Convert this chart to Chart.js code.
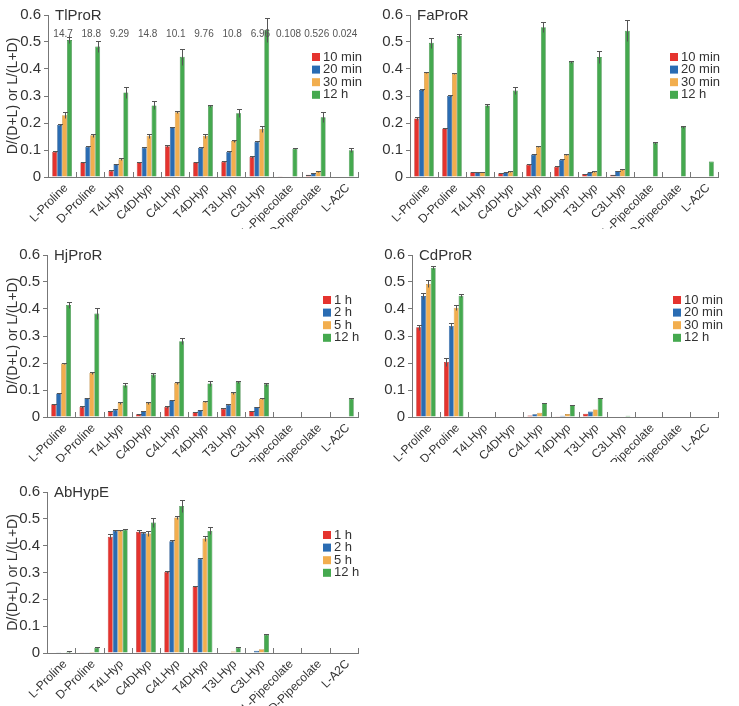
<!DOCTYPE html>
<html>
<head>
<meta charset="utf-8">
<script src="https://cdn.jsdelivr.net/npm/chart.js@4.4.0/dist/chart.umd.min.js"></script>
<style>
  body { margin: 0; background: #fff; width: 739px; height: 706px; position: relative; overflow: hidden; }
  canvas { position: absolute; }
</style>
</head>
<body>
<canvas id="tl" width="370" height="229" style="left:0;top:0"></canvas>
<canvas id="fa" width="369" height="229" style="left:370px;top:0"></canvas>
<canvas id="hj" width="370" height="230" style="left:0;top:232px"></canvas>
<canvas id="cd" width="369" height="230" style="left:370px;top:232px"></canvas>
<canvas id="ab" width="370" height="238" style="left:0;top:468px"></canvas>
<script>
// substrates on the x axis
const categories = ['L-Proline', 'D-Proline', 'T4LHyp', 'C4DHyp', 'C4LHyp', 'T4DHyp', 'T3LHyp', 'C3LHyp', 'L-Pipecolate', 'D-Pipecolate', 'L-A2C'];
const minuteLabels = ['10 min', '20 min', '30 min', '12 h'];
const hourLabels = ['1 h', '2 h', '5 h', '12 h'];
const yTickValues = [0, 0.1, 0.2, 0.3, 0.4, 0.5, 0.6];

// TlProR
const tl10 = [0.093, 0.055, 0.023, 0.055, 0.114, 0.055, 0.057, 0.074, 0.001, 0.008, 0];
const tl20 = [0.193, 0.112, 0.048, 0.109, 0.185, 0.108, 0.093, 0.131, 0.002, 0.013, 0];
const tl30 = [0.229, 0.155, 0.066, 0.153, 0.240, 0.153, 0.133, 0.178, 0.002, 0.021, 0];
const tl12 = [0.507, 0.483, 0.313, 0.265, 0.445, 0.263, 0.236, 0.545, 0.105, 0.221, 0.099];
const tlErr10 = [0.002, 0.002, 0.002, 0.002, 0.003, 0.002, 0.002, 0.003, 0, 0.001, 0];
const tlErr20 = [0.003, 0.002, 0.002, 0.002, 0.002, 0.002, 0.002, 0.002, 0, 0.001, 0];
const tlErr30 = [0.012, 0.005, 0.003, 0.008, 0.004, 0.007, 0.003, 0.01, 0, 0.002, 0];
const tlErr12 = [0.01, 0.02, 0.02, 0.015, 0.03, 0.004, 0.015, 0.045, 0.003, 0.018, 0.008];
const tlRatios = ['14.7', '18.8', '9.29', '14.8', '10.1', '9.76', '10.8', '6.96', '0.108', '0.526', '0.024'];

// FaProR
const fa10 = [0.217, 0.180, 0.018, 0.014, 0.046, 0.038, 0.011, 0.008, 0, 0, 0];
const fa20 = [0.322, 0.300, 0.017, 0.017, 0.083, 0.064, 0.017, 0.022, 0, 0, 0];
const fa30 = [0.387, 0.383, 0.018, 0.020, 0.112, 0.082, 0.020, 0.028, 0, 0, 0];
const fa12 = [0.497, 0.522, 0.265, 0.320, 0.555, 0.426, 0.444, 0.542, 0.126, 0.185, 0.057];
const faErr10 = [0.005, 0.002, 0.001, 0.001, 0.002, 0.002, 0.001, 0.001, 0, 0, 0];
const faErr20 = [0.003, 0.002, 0.001, 0.001, 0.002, 0.002, 0.001, 0.001, 0, 0, 0];
const faErr30 = [0.003, 0.003, 0.001, 0.001, 0.002, 0.002, 0.001, 0.001, 0, 0, 0];
const faErr12 = [0.018, 0.006, 0.005, 0.012, 0.018, 0.003, 0.022, 0.04, 0.004, 0.003, 0];

// HjProR
const hj1 = [0.047, 0.037, 0.021, 0.010, 0.037, 0.018, 0.031, 0.022, 0, 0, 0];
const hj2 = [0.087, 0.070, 0.027, 0.022, 0.062, 0.025, 0.046, 0.037, 0, 0, 0];
const hj5 = [0.198, 0.163, 0.052, 0.052, 0.126, 0.056, 0.089, 0.068, 0, 0, 0];
const hj12 = [0.415, 0.383, 0.118, 0.157, 0.281, 0.124, 0.130, 0.121, 0, 0, 0.068];
const hjErr1 = [0.002, 0.002, 0.001, 0.001, 0.002, 0.001, 0.001, 0.001, 0, 0, 0];
const hjErr2 = [0.002, 0.002, 0.001, 0.001, 0.002, 0.001, 0.001, 0.001, 0, 0, 0];
const hjErr5 = [0.002, 0.002, 0.002, 0.002, 0.002, 0.002, 0.002, 0.002, 0, 0, 0];
const hjErr12 = [0.012, 0.02, 0.008, 0.007, 0.01, 0.008, 0.003, 0.006, 0, 0, 0.003];

// CdProR
const cd10 = [0.332, 0.204, 0, 0, 0.006, 0.003, 0.012, 0.002, 0, 0, 0];
const cd20 = [0.448, 0.337, 0, 0, 0.010, 0.005, 0.020, 0.002, 0, 0, 0];
const cd30 = [0.493, 0.405, 0, 0, 0.016, 0.011, 0.028, 0.002, 0, 0, 0];
const cd12 = [0.553, 0.449, 0, 0, 0.052, 0.044, 0.070, 0.005, 0, 0, 0];
const cdErr10 = [0.01, 0.015, 0, 0, 0, 0, 0, 0, 0, 0, 0];
const cdErr20 = [0.012, 0.01, 0, 0, 0, 0, 0, 0, 0, 0, 0];
const cdErr30 = [0.013, 0.008, 0, 0, 0, 0, 0, 0, 0, 0, 0];
const cdErr12 = [0.005, 0.005, 0, 0, 0.001, 0.001, 0.001, 0, 0, 0, 0];

// AbHypE
const ab1 = [0, 0.001, 0.433, 0.452, 0.302, 0.248, 0, 0, 0, 0, 0];
const ab2 = [0.001, 0.003, 0.456, 0.446, 0.416, 0.352, 0.002, 0.008, 0, 0, 0];
const ab5 = [0.002, 0.004, 0.456, 0.445, 0.505, 0.427, 0.006, 0.014, 0, 0, 0];
const ab12 = [0.005, 0.020, 0.460, 0.486, 0.548, 0.455, 0.020, 0.068, 0, 0, 0];
const abErr1 = [0, 0, 0.01, 0.006, 0.003, 0.003, 0, 0, 0, 0, 0];
const abErr2 = [0, 0, 0.004, 0.004, 0.004, 0.003, 0, 0, 0, 0, 0];
const abErr5 = [0, 0, 0.003, 0.008, 0.005, 0.008, 0, 0, 0, 0, 0];
const abErr12 = [0.002, 0.002, 0.003, 0.017, 0.022, 0.013, 0.002, 0.002, 0, 0, 0];

const fills = ['#e5332e', '#2a6cb3', '#f2ae4e', '#45a94f'];
const edges = ['#a8231f', '#1b4c82', '#b9812f', '#2e7a36'];
const FONT = '"Liberation Sans", Arial, Helvetica, sans-serif';

// error bars, small upward category ticks, panel name, legend and ratio row
const panelPlugin = {
    id: 'panel',
    afterDatasetsDraw(chart) {
        const ctx = chart.ctx;
        const yScale = chart.scales.y;
        ctx.save();
        ctx.strokeStyle = '#555';
        ctx.lineWidth = 1;
        chart.data.datasets.forEach((ds, di) => {
            const meta = chart.getDatasetMeta(di);
            meta.data.forEach((bar, i) => {
                const e = ds.errors[i];
                if (!e) return;
                const v = ds.data[i];
                const yTop = Math.round(yScale.getPixelForValue(v + e)) + 0.5;
                const yBot = Math.round(yScale.getPixelForValue(Math.max(v - e, 0))) + 0.5;
                const xc = Math.round(bar.x) + 0.5;
                ctx.beginPath();
                ctx.moveTo(xc, yTop); ctx.lineTo(xc, yBot);
                ctx.moveTo(xc - 2.5, yTop); ctx.lineTo(xc + 2.5, yTop);
                ctx.stroke();
            });
        });
        ctx.restore();
    },
    afterDraw(chart, args, opts) {
        const ctx = chart.ctx;
        const area = chart.chartArea;
        const xScale = chart.scales.x;
        const n = chart.data.labels.length;
        ctx.save();

        // category separators pointing up from the axis
        ctx.strokeStyle = '#777';
        ctx.lineWidth = 1;
        ctx.beginPath();
        for (let i = 0; i <= n; i++) {
            const px = Math.round(xScale.left + i * xScale.width / n) + 0.5;
            ctx.moveTo(px, area.bottom);
            ctx.lineTo(px, area.bottom - 5);
        }
        ctx.stroke();

        // panel name
        ctx.fillStyle = '#333';
        ctx.font = '15px ' + FONT;
        ctx.textAlign = 'left';
        ctx.textBaseline = 'middle';
        ctx.fillText(opts.name, area.left + 7, area.top + 1);

        // ratio labels above the groups
        if (opts.ratios) {
            ctx.font = '10px ' + FONT;
            ctx.fillStyle = '#555';
            ctx.textAlign = 'center';
            opts.ratios.forEach((t, i) => {
                ctx.fillText(t, xScale.getPixelForValue(i) + 1, area.top + 19);
            });
        }

        // legend
        const lg = opts.legend;
        ctx.font = '13px ' + FONT;
        ctx.textAlign = 'left';
        chart.data.datasets.forEach((ds, i) => {
            const cy = lg.y + i * 12.6;
            ctx.fillStyle = ds.backgroundColor;
            ctx.fillRect(lg.x, cy - 4, 8, 8);
            ctx.fillStyle = '#333';
            ctx.fillText(ds.label, lg.x + 11, cy);
        });
        ctx.restore();
    }
};

function makePanel(id, name, seriesLabels, series, errors, box) {
    const datasets = series.map((data, i) => ({
        label: seriesLabels[i],
        data: data,
        errors: errors[i],
        backgroundColor: fills[i],
        borderColor: edges[i],
        borderWidth: 0.6,
        categoryPercentage: 0.7,
        barPercentage: 1.0
    }));

    return new Chart(document.getElementById(id), {
        type: 'bar',
        data: { labels: categories, datasets: datasets },
        options: {
            responsive: false,
            animation: false,
            events: [],
            layout: { padding: { top: box.top, right: box.right, left: 0, bottom: 0 } },
            plugins: {
                legend: { display: false },
                tooltip: { enabled: false },
                panel: { name: name, legend: box.legend, ratios: box.ratios }
            },
            scales: {
                x: {
                    afterFit: (scale) => { scale.height = box.xHeight; },
                    grid: { display: false, drawTicks: false },
                    border: { display: true, color: '#777', width: 1 },
                    ticks: {
                        autoSkip: false,
                        maxRotation: 45,
                        minRotation: 45,
                        padding: 4,
                        labelOffset: 4,
                        color: '#333',
                        font: { family: FONT, size: 12 }
                    }
                },
                y: {
                    min: 0,
                    max: 0.6,
                    afterFit: (scale) => { scale.width = box.yWidth; },
                    afterBuildTicks: (scale) => { scale.ticks = yTickValues.map(v => ({ value: v })); },
                    grid: { drawOnChartArea: false, drawTicks: true, tickLength: 4, color: '#777' },
                    border: { display: true, color: '#777', width: 1 },
                    ticks: {
                        padding: 3,
                        color: '#333',
                        font: { family: FONT, size: 15 },
                        callback: (v) => (v === 0 ? '0' : v.toFixed(1))
                    },
                    title: {
                        display: box.yTitle,
                        text: 'D/(D+L) or L/(L+D)',
                        color: '#333',
                        font: { family: FONT, size: 14 },
                        padding: { top: 5, bottom: 0 }
                    }
                }
            }
        },
        plugins: [panelPlugin]
    });
}

makePanel('tl', 'TlProR', minuteLabels, [tl10, tl20, tl30, tl12], [tlErr10, tlErr20, tlErr30, tlErr12],
    { top: 15, right: 12, yWidth: 48, xHeight: 52, yTitle: true, legend: { x: 312, y: 57 }, ratios: tlRatios });
makePanel('fa', 'FaProR', minuteLabels, [fa10, fa20, fa30, fa12], [faErr10, faErr20, faErr30, faErr12],
    { top: 15, right: 21, yWidth: 40, xHeight: 52, yTitle: false, legend: { x: 300, y: 57 } });
makePanel('hj', 'HjProR', hourLabels, [hj1, hj2, hj5, hj12], [hjErr1, hjErr2, hjErr5, hjErr12],
    { top: 23, right: 12, yWidth: 47, xHeight: 45, yTitle: true, legend: { x: 323, y: 68 } });
makePanel('cd', 'CdProR', minuteLabels, [cd10, cd20, cd30, cd12], [cdErr10, cdErr20, cdErr30, cdErr12],
    { top: 23, right: 21, yWidth: 42, xHeight: 45, yTitle: false, legend: { x: 303, y: 68 } });
makePanel('ab', 'AbHypE', hourLabels, [ab1, ab2, ab5, ab12], [abErr1, abErr2, abErr5, abErr12],
    { top: 24, right: 12, yWidth: 47, xHeight: 53, yTitle: true, legend: { x: 323, y: 67 } });
</script>
</body>
</html>
